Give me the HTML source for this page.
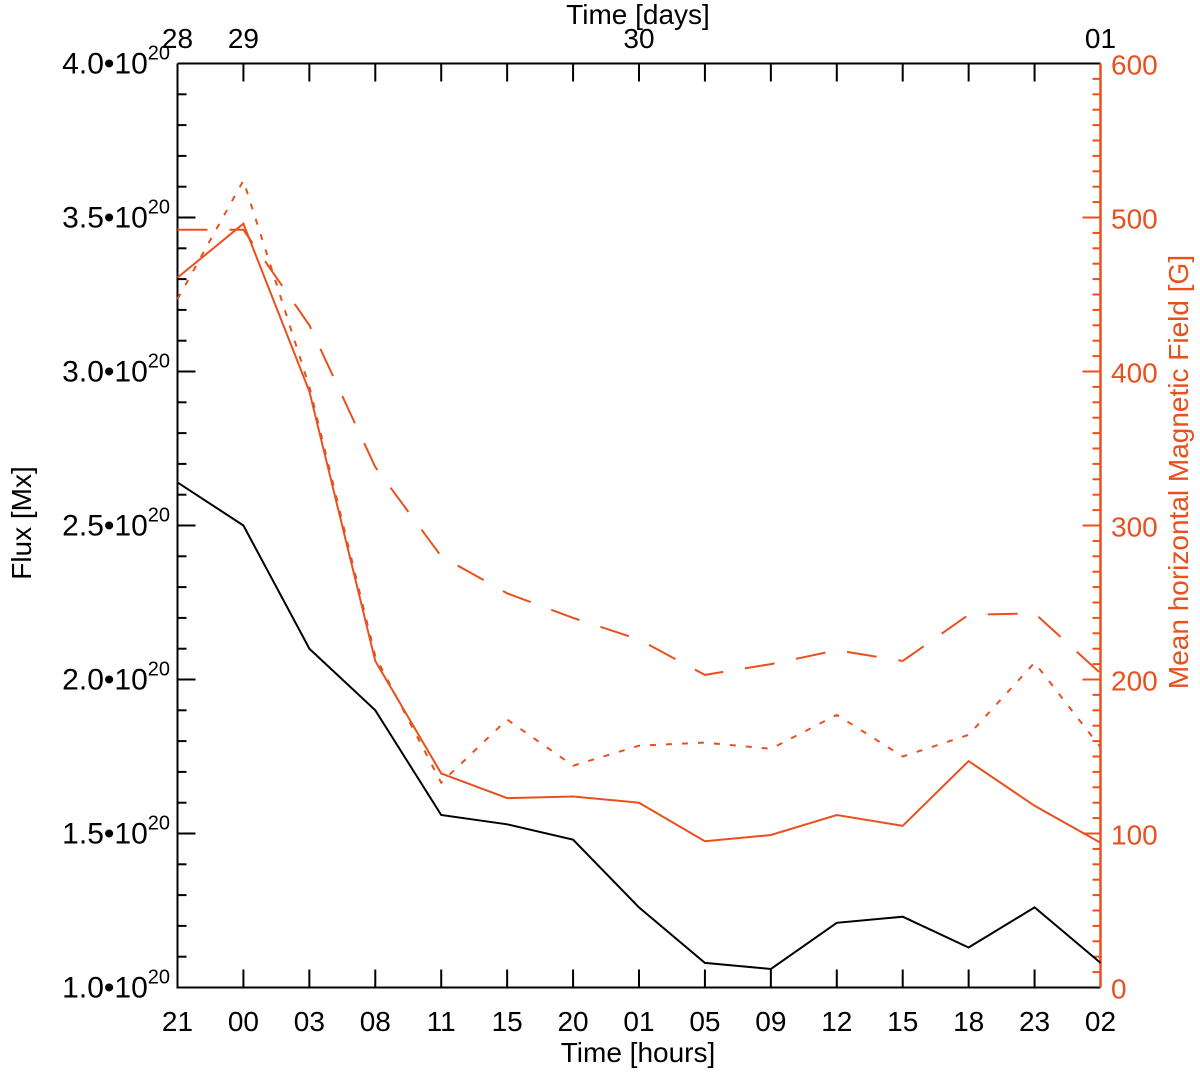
<!DOCTYPE html>
<html><head><meta charset="utf-8"><style>
html,body{margin:0;padding:0;background:#fff;width:1200px;height:1072px;overflow:hidden}
svg text{font-family:"Liberation Sans",Arial,sans-serif}
</style></head><body>
<svg id="chart" width="1200" height="1072" viewBox="0 0 1200 1072" xmlns="http://www.w3.org/2000/svg"></svg>
<script>
const hourLabels = ["21","00","03","08","11","15","20","01","05","09","12","15","18","23","02"];
const dayLabels = ["28","29","30","01"];
const dayIndex = [0,1,7,14];
const fluxTicks = ["1.0","1.5","2.0","2.5","3.0","3.5","4.0"];
const fieldTicks = [0,100,200,300,400,500,600];
const fluxValues = [2.64,2.50,2.10,1.90,1.56,1.53,1.48,1.26,1.08,1.06,1.21,1.23,1.13,1.26,1.08];
const fieldSolid = [461,496,387,212,139,123,124,120,95,99,112,105,147,118,94];
const fieldDotted = [447,524,390,215,133,174,144,157,159,155,177,150,164,211,156];
const fieldDashed = [492,492,430,338,280,256,240,226,203,210,219,212,242,243,204];

const L=177.5,R=1100.5,T=63.5,B=987.5;
const OR="#e8511e";
const svg=document.getElementById('chart');
const NS="http://www.w3.org/2000/svg";
function xS(i){return L+(R-L)*i/(hourLabels.length-1);}
function yFlux(v){return B-(v-1.0)/3.0*(B-T);}
function yField(v){return B-v/600*(B-T);}
function mk(tag,attrs,parent){const e=document.createElementNS(NS,tag);for(const k in attrs)e.setAttribute(k,attrs[k]);(parent||svg).appendChild(e);return e;}
function txt(s,attrs,name){const e=mk('text',attrs);e.textContent=s;


return e;}

let ax=mk('path',{d:`M${L},${T}L${R},${T}M${L},${T}L${L},${B}L${R},${B}`,stroke:'#000','stroke-width':2,fill:'none'});


let rax=mk('line',{x1:R,y1:T,x2:R,y2:B,stroke:OR,'stroke-width':2.5});



for(let i=0;i<hourLabels.length;i++){
  const x=xS(i);
  if(i>0&&i<hourLabels.length-1){
    let t=mk('path',{d:`M${x},${B}L${x},${B-18}M${x},${T}L${x},${T+18}`,stroke:'#000','stroke-width':2});
    
    
  }
  txt(hourLabels[i],{x:x,y:1031,'font-size':28,'text-anchor':'middle',fill:'#000'},'x-tick-label');
}
for(let k=0;k<dayLabels.length;k++){
  txt(dayLabels[k],{x:xS(dayIndex[k]),y:48,'font-size':28,'text-anchor':'middle',fill:'#000'},'top-tick-label');
}
for(let v=10;v<=40;v++){
  const y=yFlux(v/10);const major=(v%5===0);
  if(v===10||v===40)continue;
  let t=mk('line',{x1:L,y1:y,x2:L+(major?18:9),y2:y,stroke:'#000','stroke-width':2});
  
  
}
fluxTicks.forEach(s=>{
  const y=yFlux(parseFloat(s));
  const e=mk('text',{x:170,y:y+10,'font-size':30,'text-anchor':'end',fill:'#000'});
  
  
  e.textContent=s+"\u202210";
  const sp=mk('tspan',{dy:-14,'font-size':20},e);sp.textContent="20";
});
for(let v=10;v<600;v+=10){
  const y=yField(v);const major=(v%100===0);
  let t=mk('line',{x1:R,y1:y,x2:R-(major?18:8),y2:y,stroke:OR,'stroke-width':2});
  
  
}
fieldTicks.forEach(v=>{
  txt(String(v),{x:1111,y:yField(v)+11,'font-size':28,fill:OR},'right-tick-label');
});
txt("Time [hours]",{x:638,y:1062,'font-size':28,'text-anchor':'middle',fill:'#000'},'x-axis-title');
txt("Time [days]",{x:638,y:24,'font-size':28,'text-anchor':'middle',fill:'#000'},'top-axis-title');
txt("Flux [Mx]",{x:0,y:0,'font-size':28,'text-anchor':'middle',fill:'#000',transform:'translate(31,523) rotate(-90)'},'y-axis-title');
txt("Mean horizontal Magnetic Field [G]",{x:0,y:0,'font-size':28,'text-anchor':'middle',fill:OR,transform:'translate(1188,472) rotate(-90)'},'right-axis-title');

function line(vals,yf,stroke,dash,name){
  const d=vals.map((v,i)=>(i?'L':'M')+xS(i).toFixed(1)+','+yf(v).toFixed(1)).join('');
  const p=mk('path',{d:d,fill:'none',stroke:stroke,'stroke-width':2});
  if(dash)p.setAttribute('stroke-dasharray',dash);
  
  
}
line(fluxValues,yFlux,'#000',null,'flux-line');
line(fieldSolid,yField,OR,null,'field-solid-line');
line(fieldDotted,yField,OR,'6 10','field-dotted-line');
line(fieldDashed,yField,OR,'30 22','field-dashed-line');
</script>
</body></html>
